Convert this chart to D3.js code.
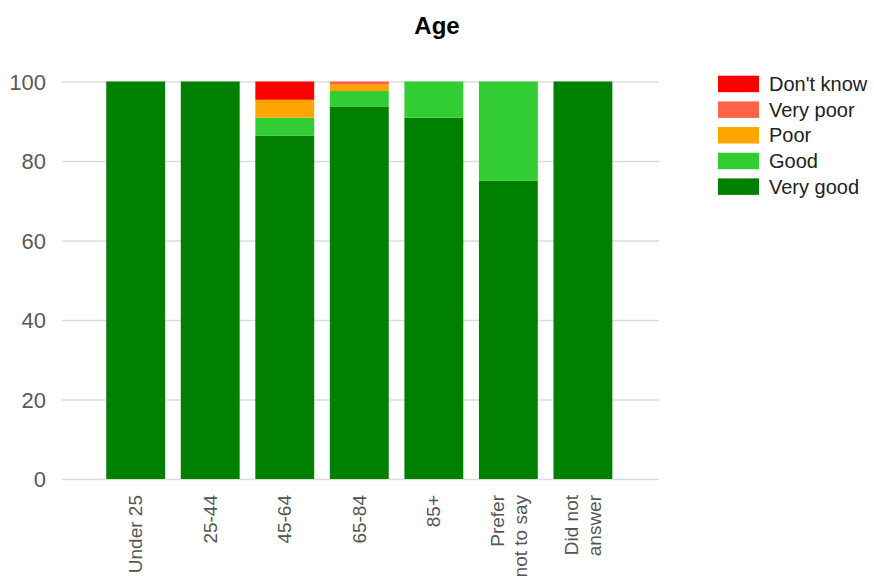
<!DOCTYPE html>
<html>
<head>
<meta charset="utf-8">
<script src="https://cdn.jsdelivr.net/npm/d3@7"></script>
<style>
  html, body { margin: 0; padding: 0; background: #fff; }
  svg { display: block; font-family: "Liberation Sans", Arial, sans-serif; }
</style>
</head>
<body>
<svg id="chart" width="874" height="576"></svg>
<script>
const title = "Age";
const categories = ["Under 25", "25-44", "45-64", "65-84", "85+", "Prefer\nnot to say", "Did not\nanswer"];
const seriesNames = ["Very good", "Good", "Poor", "Very poor", "Don't know"];
const veryGood = [100, 100, 86.4, 93.6, 90.9, 75, 100];
const good     = [0, 0, 4.5, 4.0, 9.1, 25, 0];
const poor     = [0, 0, 4.5, 1.6, 0, 0, 0];
const veryPoor = [0, 0, 0, 0.8, 0, 0, 0];
const dontKnow = [0, 0, 4.6, 0, 0, 0, 0];
const colors = ["#008000", "#32cd32", "#ffa500", "#ff6347", "#ff0000"];
const yTicks = [0, 20, 40, 60, 80, 100];
const legendOrder = ["Don't know", "Very poor", "Poor", "Good", "Very good"];

const seriesValues = [veryGood, good, poor, veryPoor, dontKnow];
const rows = categories.map((c, i) => {
  const r = { cat: c };
  seriesNames.forEach((s, j) => r[s] = seriesValues[j][i]);
  return r;
});

const svg = d3.select("#chart");
const x = d3.scaleBand().domain(categories).range([90.6, 628]).padding(0.21);
const y = d3.scaleLinear().domain([0, 100]).range([479, 81.5]);
const color = d3.scaleOrdinal().domain(seriesNames).range(colors);

// title
svg.append("text").attr("x", 437).attr("y", 34).attr("text-anchor", "middle")
  .attr("font-size", 24).attr("font-weight", "bold").attr("fill", "#000").text(title);

// gridlines
const yAxis = d3.axisLeft(y).tickValues(yTicks).tickSize(0).tickPadding(0);
const gAxis = svg.append("g").attr("transform", "translate(62,0)").call(yAxis);
gAxis.select(".domain").remove();
gAxis.selectAll(".tick line").attr("x2", 597).attr("stroke", "#dcdcdc").attr("stroke-width", 1.3);
gAxis.selectAll(".tick text").attr("x", -16).attr("dy", "0.35em")
  .attr("font-size", 22).attr("fill", "#5a5a5a").attr("font-family", "Liberation Sans, Arial, sans-serif");

// bars
const stack = d3.stack().keys(seriesNames);
const stacked = stack(rows);
svg.append("g").selectAll("g").data(stacked).join("g")
  .attr("fill", d => color(d.key))
  .selectAll("rect").data(d => d).join("rect")
  .attr("x", d => x(d.data.cat))
  .attr("width", x.bandwidth())
  .attr("y", d => y(d[1]))
  .attr("height", d => Math.max(0, y(d[0]) - y(d[1])));

// x labels
const xl = svg.append("g");
categories.forEach(c => {
  const lines = c.split("\n");
  const cx = x(c) + x.bandwidth() / 2;
  const t = xl.append("text")
    .attr("transform", `translate(${cx},495) rotate(-90)`)
    .attr("text-anchor", "end").attr("font-size", 19).attr("fill", "#555");
  const lh = 23;
  lines.forEach((ln, i) => {
    const off = (i - (lines.length - 1) / 2) * lh;
    t.append("tspan").attr("x", 0).attr("y", off).attr("dy", "0.35em").text(ln);
  });
});

// legend
const lg = svg.append("g");
legendOrder.forEach((name, i) => {
  const yy = 75.7 + i * 25.67;
  lg.append("rect").attr("x", 718).attr("y", yy).attr("width", 41).attr("height", 16.5).attr("fill", color(name));
  lg.append("text").attr("x", 769).attr("y", yy + 8.3).attr("dy", "0.35em")
    .attr("font-size", 20).attr("fill", "#222").text(name);
});
</script>
</body>
</html>
